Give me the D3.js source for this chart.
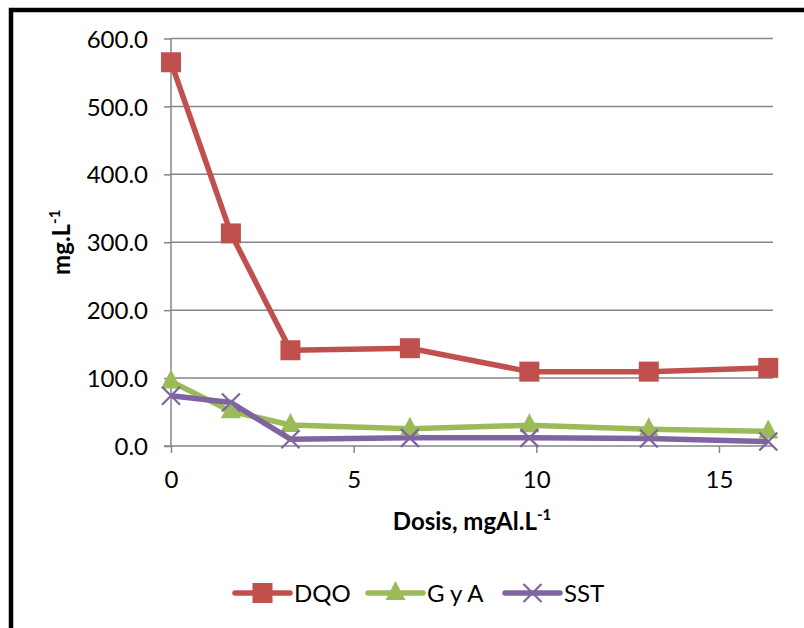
<!DOCTYPE html>
<html><head><meta charset="utf-8">
<script src="https://cdn.jsdelivr.net/npm/d3@7"></script>
<style>
html,body{margin:0;padding:0;background:#fff;}
svg{display:block;}
text{font-family:Lato,"Open Sans",sans-serif;fill:#000;}
</style></head>
<body>
<svg id="c" width="804" height="628"></svg>
<script>
const dosis = [0, 1.64, 3.27, 6.54, 9.81, 13.08, 16.35];
const dqo = [565, 313, 141, 144, 109.5, 109.5, 115];
const gya = [95, 51, 31, 25.5, 30.5, 24.5, 21.5];
const sst = [74, 64, 10, 12, 12, 11, 6.5];
const seriesNames = ["DQO", "G y A", "SST"];
const yTicks = [0, 100, 200, 300, 400, 500, 600];
const xTicks = [0, 5, 10, 15];

const svg = d3.select("#c");
const m = {left: 171, top: 38.5, right: 773, bottom: 446};
const x = d3.scaleLinear().domain([0, 16.48]).range([m.left, m.right]);
const y = d3.scaleLinear().domain([0, 600]).range([m.bottom, m.top]);
const grey = "#868686";
const colors = ["#C0504D", "#9BBB59", "#8064A2"];

// outer border
svg.append("rect").attr("x", 11).attr("y", 10).attr("width", 900).attr("height", 800)
  .attr("fill", "none").attr("stroke", "#000").attr("stroke-width", 4.5);

// gridlines
svg.append("g").selectAll("line").data(yTicks.filter(d => d > 0)).join("line")
  .attr("x1", m.left).attr("x2", m.right)
  .attr("y1", d => y(d)).attr("y2", d => y(d))
  .attr("stroke", grey).attr("stroke-width", 1.5);

// y axis
const yAxis = d3.axisLeft(y).tickValues(yTicks).tickSize(7).tickPadding(16)
  .tickFormat(d3.format(".1f"));
const gy = svg.append("g").attr("transform", `translate(${m.left},0)`).call(yAxis);
gy.select(".domain").attr("stroke", grey).attr("stroke-width", 1.5).attr("d", `M-7,${m.bottom}H0V${m.top}`);
gy.selectAll(".tick line").attr("stroke", grey).attr("stroke-width", 1.5);
gy.selectAll(".tick text").attr("font-size", 24).attr("font-family", "Lato").attr("fill", "#000")
  .attr("dy", "0.36em");

// x axis
const xAxis = d3.axisBottom(x).tickValues(xTicks).tickSize(7).tickPadding(18).tickFormat(d3.format("d"));
const gx = svg.append("g").attr("transform", `translate(0,${m.bottom})`).call(xAxis);
gx.select(".domain").attr("stroke", grey).attr("stroke-width", 1.5).attr("d", `M${m.left},0H${m.right}`);
gx.selectAll(".tick line").attr("stroke", grey).attr("stroke-width", 1.5);
gx.selectAll(".tick text").attr("font-size", 24).attr("font-family", "Lato").attr("fill", "#000");

// axis titles
const xt = svg.append("text").attr("x", (m.left + m.right) / 2).attr("y", 530)
  .attr("text-anchor", "middle").attr("font-weight", "bold").attr("font-size", 24);
xt.append("tspan").text("Dosis, mgAl.L");
xt.append("tspan").text("-1").attr("font-size", 15).attr("dy", -10);

const yt = svg.append("text").attr("transform", `translate(70,${(m.top + m.bottom) / 2}) rotate(-90)`)
  .attr("text-anchor", "middle").attr("font-weight", "bold").attr("font-size", 24);
yt.append("tspan").text("mg.L");
yt.append("tspan").text("-1").attr("font-size", 15).attr("dy", -10);

// series
const data = [dqo, gya, sst];
const line = d3.line().x((d, i) => x(dosis[i])).y(d => y(d));

function marker(g, type, color) {
  if (type === 0) {
    g.append("rect").attr("x", -10).attr("y", -10).attr("width", 20).attr("height", 20).attr("fill", color);
  } else if (type === 1) {
    g.append("path").attr("d", "M0,-12L10,7L-10,7Z").attr("fill", color);
  } else {
    g.append("path").attr("d", "M-9,-9L9,9M-9,9L9,-9").attr("stroke", color).attr("stroke-width", 2.2).attr("fill", "none");
  }
}

data.forEach((vals, s) => {
  svg.append("path").datum(vals).attr("d", line).attr("fill", "none")
    .attr("stroke", colors[s]).attr("stroke-width", 5.5).attr("stroke-linejoin", "round");
});
data.forEach((vals, s) => {
  vals.forEach((v, i) => {
    const g = svg.append("g").attr("transform", `translate(${x(dosis[i])},${y(v)})`);
    marker(g, s, colors[s]);
  });
});

// legend
const legX = [235, 368, 505];
const legY = 593;
seriesNames.forEach((name, s) => {
  const g = svg.append("g").attr("transform", `translate(${legX[s]},${legY})`);
  g.append("line").attr("x1", 0).attr("x2", 55).attr("stroke", colors[s]).attr("stroke-width", 5.5).attr("stroke-linecap", "round");
  const mg = g.append("g").attr("transform", "translate(27.5,0)");
  marker(mg, s, colors[s]);
  g.append("text").attr("x", 59).attr("y", 0).attr("dy", "0.36em").attr("font-size", 24).text(name);
});
</script>
</body></html>
